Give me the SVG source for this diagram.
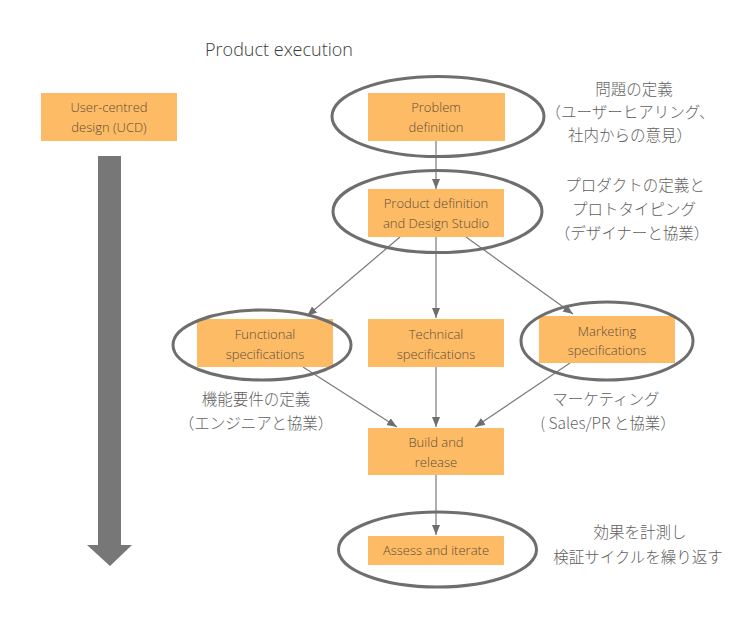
<svg xmlns="http://www.w3.org/2000/svg" width="733" height="622" viewBox="0 0 733 622">
<style>
.box{fill:#fdbb66}
.lbl{font-family:"Open Sans","Liberation Sans",sans-serif;font-size:13px;font-weight:300;fill:#5e4e38;text-anchor:middle}
.ell{fill:none;stroke:#6e6e6e;stroke-width:3}
.jp{font-family:"Noto Sans CJK JP",sans-serif;font-size:15.5px;font-weight:300;fill:#5f5f5f;text-anchor:middle}
.con{stroke:#7a7a7a;stroke-width:1.2;fill:none;marker-end:url(#ah)}
</style>
<defs>
<marker id="ah" markerUnits="userSpaceOnUse" markerWidth="10" markerHeight="10" viewBox="0 0 10 10" refX="10" refY="5" orient="auto">
<path d="M0,1 L10,5 L0,9 Z" fill="#6e6e6e"/>
</marker>
</defs>
<rect width="733" height="622" fill="#ffffff"/>
<text x="279" y="56" font-family="'Open Sans','Liberation Sans',sans-serif" font-size="18" font-weight="300" fill="#3a3a3a" text-anchor="middle">Product execution</text>

<g id="timeline">
<polygon points="98,156 121,156 121,545 132,545 110,566 87,545 98,545" fill="#777777"/>
</g>

<g id="connectors">
<line class="con" x1="436" y1="141" x2="436" y2="189"/>
<line class="con" x1="400" y1="237" x2="307" y2="316"/>
<line class="con" x1="436" y1="237" x2="436" y2="318"/>
<line class="con" x1="466" y1="237" x2="573" y2="314"/>
<line class="con" x1="303" y1="367" x2="397" y2="427"/>
<line class="con" x1="436" y1="367" x2="436" y2="427"/>
<line class="con" x1="570" y1="363" x2="475" y2="427"/>
<line class="con" x1="436" y1="475" x2="436" y2="535"/>
</g>

<g id="ucd">
<rect class="box" x="41" y="93" width="136" height="48"/>
<text class="lbl" x="109" y="112">User-centred</text>
<text class="lbl" x="109" y="132">design (UCD)</text>
</g>

<g id="problem">
<rect class="box" x="368" y="93" width="137" height="48"/>
<text class="lbl" x="436" y="112">Problem</text>
<text class="lbl" x="436" y="132">definition</text>
<ellipse class="ell" cx="438" cy="116.5" rx="106" ry="40"/>
</g>

<g id="product">
<rect class="box" x="368" y="189" width="136" height="48"/>
<text class="lbl" x="436" y="208">Product definition</text>
<text class="lbl" x="436" y="228">and Design Studio</text>
<ellipse class="ell" cx="437.5" cy="211.5" rx="104.5" ry="41"/>
</g>

<g id="functional">
<rect class="box" x="197" y="319" width="136" height="48"/>
<text class="lbl" x="265" y="339">Functional</text>
<text class="lbl" x="265" y="359">specifications</text>
<ellipse class="ell" cx="262" cy="345" rx="89" ry="35"/>
</g>

<g id="technical">
<rect class="box" x="368" y="319" width="136" height="48"/>
<text class="lbl" x="436" y="339">Technical</text>
<text class="lbl" x="436" y="359">specifications</text>
</g>

<g id="marketing">
<rect class="box" x="539" y="316" width="136" height="47"/>
<text class="lbl" x="607" y="336">Marketing</text>
<text class="lbl" x="607" y="355">specifications</text>
<ellipse class="ell" cx="607" cy="341" rx="86" ry="39"/>
</g>

<g id="build">
<rect class="box" x="368" y="428" width="136" height="47"/>
<text class="lbl" x="436" y="447">Build and</text>
<text class="lbl" x="436" y="467">release</text>
</g>

<g id="assess">
<rect class="box" x="368" y="536" width="136" height="29"/>
<text class="lbl" x="436" y="555">Assess and iterate</text>
<ellipse class="ell" cx="437.5" cy="549.5" rx="99" ry="37.5"/>
</g>

<g id="notes">
<text class="jp" x="634" y="95">問題の定義</text>
<text class="jp" x="630" y="118">（ユーザーヒアリング、</text>
<text class="jp" x="630" y="141">社内からの意見）</text>
<text class="jp" x="635" y="191">プロダクトの定義と</text>
<text class="jp" x="634" y="215">プロトタイピング</text>
<text class="jp" x="632" y="239">（デザイナーと協業）</text>
<text class="jp" x="256" y="405">機能要件の定義</text>
<text class="jp" x="256" y="429">（エンジニアと協業）</text>
<text class="jp" x="606" y="405">マーケティング</text>
<text class="jp" x="608" y="429">( Sales/PR と協業）</text>
<text class="jp" x="640" y="538">効果を計測し</text>
<text class="jp" x="638" y="563">検証サイクルを繰り返す</text>
</g>
</svg>
